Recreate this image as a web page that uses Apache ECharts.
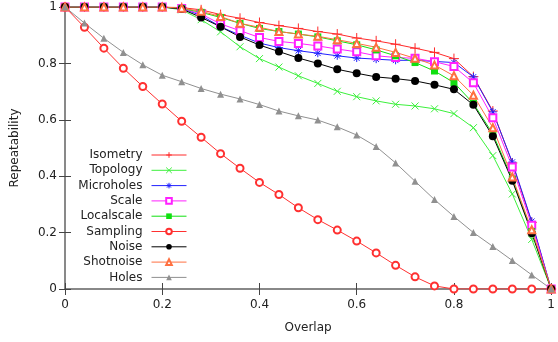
<!DOCTYPE html>
<html>
<head>
<meta charset="utf-8">
<script src="https://cdn.jsdelivr.net/npm/echarts@6/dist/echarts.min.js"></script>
<style>
  html, body { margin: 0; padding: 0; background: #fff; }
  #main { width: 558px; height: 342px; }
</style>
</head>
<body>
<div id="main"></div>
<script>
// overlap values (x axis)
const overlap = [0, 0.04, 0.08, 0.12, 0.16, 0.2, 0.24, 0.28, 0.32, 0.36, 0.4, 0.44, 0.48,
  0.52, 0.56, 0.6, 0.64, 0.68, 0.72, 0.76, 0.8, 0.84, 0.88, 0.92, 0.96, 1];

const isometry   = [1, 1, 1, 1, 1, 1, 0.998, 0.99, 0.973, 0.96, 0.945, 0.934, 0.924, 0.913, 0.904, 0.89, 0.88, 0.868, 0.854, 0.839, 0.817, 0.753, 0.631, 0.447, 0.236, 0];
const topology   = [1, 1, 1, 1, 1, 1, 0.99, 0.955, 0.912, 0.859, 0.817, 0.787, 0.756, 0.729, 0.701, 0.682, 0.667, 0.655, 0.649, 0.639, 0.622, 0.572, 0.473, 0.337, 0.176, 0];
const microholes = [1, 1, 1, 1, 1, 1, 0.995, 0.97, 0.93, 0.9, 0.872, 0.856, 0.845, 0.836, 0.827, 0.819, 0.815, 0.811, 0.811, 0.807, 0.803, 0.752, 0.628, 0.45, 0.24, 0];
const scale      = [1, 1, 1, 1, 1, 1, 0.995, 0.975, 0.94, 0.916, 0.892, 0.878, 0.871, 0.862, 0.851, 0.841, 0.827, 0.821, 0.818, 0.806, 0.789, 0.731, 0.607, 0.433, 0.226, 0];
const localscale = [1, 1, 1, 1, 1, 1, 0.995, 0.981, 0.963, 0.942, 0.924, 0.913, 0.904, 0.894, 0.88, 0.866, 0.848, 0.827, 0.803, 0.773, 0.732, 0.658, 0.55, 0.39, 0.204, 0];
const sampling   = [1, 0.928, 0.854, 0.783, 0.718, 0.656, 0.595, 0.538, 0.48, 0.428, 0.378, 0.335, 0.288, 0.246, 0.209, 0.17, 0.128, 0.084, 0.043, 0.011, 0, 0, 0, 0, 0, 0];
const noise      = [1, 1, 1, 1, 1, 1, 0.993, 0.963, 0.93, 0.894, 0.865, 0.842, 0.819, 0.8, 0.779, 0.765, 0.752, 0.746, 0.738, 0.724, 0.708, 0.653, 0.542, 0.384, 0.198, 0];
const shotnoise  = [1, 1, 1, 1, 1, 1, 0.996, 0.985, 0.966, 0.942, 0.928, 0.913, 0.904, 0.896, 0.884, 0.871, 0.857, 0.839, 0.818, 0.794, 0.756, 0.687, 0.572, 0.397, 0.21, 0];
const holes      = [1, 0.943, 0.889, 0.839, 0.795, 0.758, 0.735, 0.711, 0.691, 0.674, 0.654, 0.631, 0.614, 0.599, 0.575, 0.546, 0.505, 0.447, 0.382, 0.317, 0.257, 0.2, 0.151, 0.101, 0.05, 0];

const FONT = 'DejaVu Sans';
const PLUS = 'path://M0,5L10,5M5,0L5,10';
const CROSS = 'path://M0,0L10,10M10,0L0,10';
const STAR = 'path://M0,5L10,5M5,0L5,10M1.5,1.5L8.5,8.5M8.5,1.5L1.5,8.5';

const seriesDefs = [
  { name: 'Isometry',   data: isometry,   color: '#ff2a2a', symbol: PLUS,            size: 10, stroke: true },
  { name: 'Topology',   data: topology,   color: '#3cf03c', symbol: CROSS,           size: 7,  stroke: true },
  { name: 'Microholes', data: microholes, color: '#2020ff', symbol: STAR,            size: 8,  stroke: true },
  { name: 'Scale',      data: scale,      color: '#ff20ff', symbol: 'emptyRect',     size: 7 },
  { name: 'Localscale', data: localscale, color: '#10e010', symbol: 'rect',          size: 7 },
  { name: 'Sampling',   data: sampling,   color: '#ff3030', symbol: 'emptyCircle',   size: 7 },
  { name: 'Noise',      data: noise,      color: '#000000', symbol: 'circle',        size: 8 },
  { name: 'Shotnoise',  data: shotnoise,  color: '#ff7040', symbol: 'emptyTriangle', size: 7 },
  { name: 'Holes',      data: holes,      color: '#909090', symbol: 'triangle',      size: 7 }
];

const legendTop0 = 149;
const legendStep = 15.3;

const chart = echarts.init(document.getElementById('main'), null, { renderer: 'canvas' });

const option = {
  animation: false,
  backgroundColor: '#fff',
  textStyle: { fontFamily: FONT },
  grid: { left: 65, right: 3, top: 7, bottom: 53 },
  legend: seriesDefs.map((s, i) => ({
    data: [s.name],
    orient: 'vertical',
    align: 'right',
    right: 371,
    top: legendTop0 + i * legendStep,
    padding: 0,
    itemWidth: 35,
    itemHeight: 7,
    selectedMode: false,
    itemStyle: { borderWidth: 1 },
    lineStyle: { width: 1 },
    textStyle: { fontFamily: FONT, fontSize: 12, color: '#222', padding: [0, 4, 0, 0] }
  })),
  xAxis: [
    {
      type: 'value', min: 0, max: 1, interval: 0.2, position: 'bottom',
      name: 'Overlap', nameLocation: 'middle', nameGap: 33,
      nameTextStyle: { fontFamily: FONT, fontSize: 12, color: '#222' },
      axisLine: { lineStyle: { color: '#666', width: 1.5 } },
      axisTick: { inside: true, length: 6, lineStyle: { color: '#444' } },
      axisLabel: { fontFamily: FONT, fontSize: 12, color: '#222', margin: 10 },
      splitLine: { show: false }
    },
    {
      type: 'value', min: 0, max: 1, interval: 0.2, position: 'top',
      axisLine: { lineStyle: { color: '#888', width: 1.5 } },
      axisTick: { inside: true, length: 6, lineStyle: { color: '#444' } },
      axisLabel: { show: false },
      splitLine: { show: false }
    }
  ],
  yAxis: [
    {
      type: 'value', min: 0, max: 1, interval: 0.2, position: 'left',
      name: 'Repeatability', nameLocation: 'middle', nameGap: 44,
      nameTextStyle: { fontFamily: FONT, fontSize: 12, color: '#222' },
      axisLine: { show: true, lineStyle: { color: '#666', width: 1.5 } },
      axisTick: { show: true, inside: true, length: 6, lineStyle: { color: '#444' } },
      axisLabel: { fontFamily: FONT, fontSize: 12, color: '#222', margin: 8 },
      splitLine: { show: false }
    },
    {
      type: 'value', min: 0, max: 1, interval: 0.2, position: 'right',
      axisLine: { show: true, lineStyle: { color: '#888', width: 1.5 } },
      axisTick: { show: true, inside: true, length: 6, lineStyle: { color: '#444' } },
      axisLabel: { show: false },
      splitLine: { show: false }
    }
  ],
  series: seriesDefs.map(s => ({
    name: s.name,
    type: 'line',
    xAxisIndex: 0,
    yAxisIndex: 0,
    data: overlap.map((x, i) => [x, s.data[i]]),
    symbol: s.symbol,
    symbolSize: s.size,
    showAllSymbol: true,
    lineStyle: { color: s.color, width: 1 },
    itemStyle: s.stroke
      ? { color: s.color, borderColor: s.color, borderWidth: 1 }
      : { color: s.color, borderWidth: 1 },
    emphasis: { disabled: true }
  }))
};

chart.setOption(option);
</script>
</body>
</html>
